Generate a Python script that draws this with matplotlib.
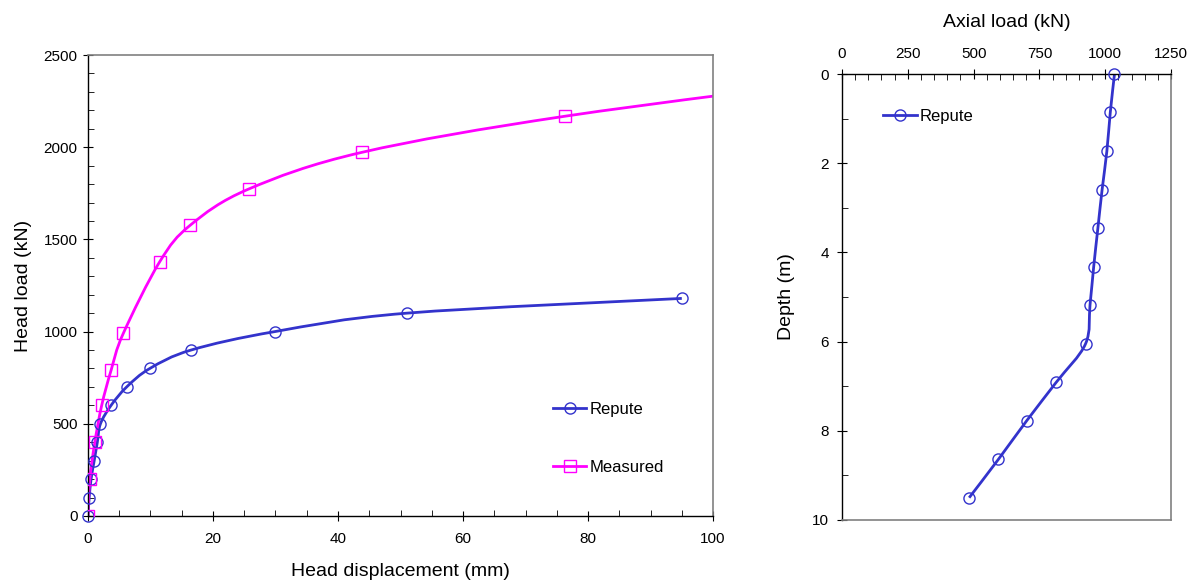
import numpy as np
import matplotlib
matplotlib.use("Agg")
import matplotlib.pyplot as plt
from matplotlib.path import Path
from matplotlib.patches import PathPatch
from matplotlib.lines import Line2D
from matplotlib.ticker import MultipleLocator

plt.rcParams['font.family'] = ['Liberation Sans', 'DejaVu Sans']

# head load - displacement
repute_disp = [0, 0.2, 0.5, 1.0, 1.5, 2.0, 3.7, 6.2, 9.9, 16.5, 29.9, 51.0, 95.0]
repute_load = [0, 100, 200, 300, 400, 500, 600, 700, 800, 900, 1000, 1100, 1180]

measured_disp = [0, 0.3, 1.1, 2.2, 3.7, 5.65, 11.5, 16.4, 25.7, 43.8, 76.3, 125.0]
measured_load = [0, 200, 400, 600, 790, 990, 1380, 1578, 1773, 1972, 2168, 2385]

# axial load along the pile
depth = [0, 0.86, 1.73, 2.59, 3.45, 4.32, 5.18, 6.05, 6.91, 7.77, 8.64, 9.5]
axial_load = [1035, 1019, 1006, 988, 972, 956, 942, 925, 814, 702, 594, 483]

BLUE = '#3333cc'
MAGENTA = '#ff00ff'
GRAY = '#808080'


def smooth_path(x, y):
    # excel-like smoothed line: catmull-rom segments as cubic beziers
    p = np.column_stack([x, y]).astype(float)
    n = len(p)
    verts = [p[0]]
    codes = [Path.MOVETO]
    for i in range(n - 1):
        p0 = p[i - 1] if i > 0 else p[i]
        p1 = p[i]
        p2 = p[i + 1]
        p3 = p[i + 2] if i + 2 < n else p[i + 1]
        verts += [p1 + (p2 - p0) / 6, p2 - (p3 - p1) / 6, p2]
        codes += [Path.CURVE4] * 3
    return Path(verts, codes)


def add_series(ax, x, y, color, marker, ms):
    patch = PathPatch(smooth_path(x, y), facecolor='none', edgecolor=color,
                      lw=2.0, zorder=2)
    ax.add_patch(patch)
    ax.plot(x, y, ls='none', marker=marker, ms=ms, mfc='none', mec=color,
            mew=1.0, zorder=3, clip_on=False if max(x) <= ax.get_xlim()[1] else True)
    return Line2D([], [], color=color, lw=2.0, marker=marker, ms=ms,
                  mfc='none', mec=color, mew=1.0)


def style_spines(ax, dark, light):
    for s in dark:
        ax.spines[s].set_color('black')
        ax.spines[s].set_linewidth(1.0)
    for s in light:
        ax.spines[s].set_color(GRAY)
        ax.spines[s].set_linewidth(1.2)


fig = plt.figure(figsize=(11.95, 5.81), dpi=100)

# ---- left: load-settlement
ax1 = fig.add_axes([0.0736, 0.1119, 0.5231, 0.7934])
ax1.set_xlim(0, 100)
ax1.set_ylim(0, 2500)
h_rep = add_series(ax1, repute_disp, repute_load, BLUE, 'o', 8)
h_mea = add_series(ax1, measured_disp, measured_load, MAGENTA, 's', 8.5)
ax1.xaxis.set_major_locator(MultipleLocator(20))
ax1.xaxis.set_minor_locator(MultipleLocator(5))
ax1.yaxis.set_major_locator(MultipleLocator(500))
ax1.yaxis.set_minor_locator(MultipleLocator(100))
ax1.tick_params(which='major', direction='inout', length=7, labelsize=11, pad=4)
ax1.tick_params(axis='x', which='major', pad=8)
ax1.tick_params(which='minor', direction='in', length=4)
style_spines(ax1, ['left', 'bottom'], ['top', 'right'])
ax1.set_xlabel('Head displacement (mm)', fontsize=14, labelpad=12)
ax1.set_ylabel('Head load (kN)', fontsize=14, labelpad=8)
ax1.legend([h_rep, h_mea], ['Repute', 'Measured'], loc='upper left',
           bbox_to_anchor=(0.72, 0.28), frameon=False, fontsize=12,
           handlelength=2.0, handletextpad=0.2, labelspacing=2.6)

# ---- right: axial load vs depth
ax2 = fig.add_axes([0.7046, 0.105, 0.2754, 0.7676])
ax2.set_xlim(0, 1250)
ax2.set_ylim(10, 0)
h_ax = add_series(ax2, axial_load, depth, BLUE, 'o', 8)
ax2.xaxis.tick_top()
ax2.xaxis.set_label_position('top')
ax2.xaxis.set_major_locator(MultipleLocator(250))
ax2.xaxis.set_minor_locator(MultipleLocator(50))
ax2.yaxis.set_major_locator(MultipleLocator(2))
ax2.yaxis.set_minor_locator(MultipleLocator(1))
ax2.tick_params(which='major', direction='inout', length=7, labelsize=11, pad=6)
ax2.tick_params(which='minor', direction='in', length=4)
style_spines(ax2, ['left', 'top'], ['bottom', 'right'])
ax2.set_xlabel('Axial load (kN)', fontsize=14, labelpad=14)
ax2.set_ylabel('Depth (m)', fontsize=14, labelpad=12)
ax2.legend([h_ax], ['Repute'], loc='upper left', bbox_to_anchor=(0.08, 0.955),
           frameon=False, fontsize=12, handlelength=2.0, handletextpad=0.2)

fig.savefig('out.png', dpi=100)
